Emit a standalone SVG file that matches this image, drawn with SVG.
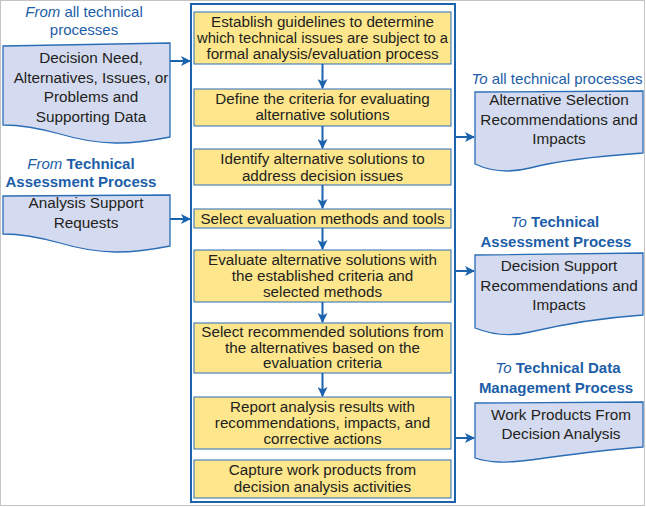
<svg xmlns="http://www.w3.org/2000/svg" width="646" height="507" viewBox="0 0 646 507">
<defs>
<marker id="ah" markerWidth="10" markerHeight="10" refX="9" refY="5" orient="auto" markerUnits="userSpaceOnUse">
<path d="M0,0 L10,5 L0,10 L2.5,5 z" fill="#1b63ad"/>
</marker>
<style>
.frame{fill:none;stroke:#1b63ad;stroke-width:2}
.step{fill:#fde68c;stroke:#2a6db5;stroke-width:1}
.doc{fill:#d4daef;stroke:#2a6db5;stroke-width:1.3}
.t{font-family:"Liberation Sans",Arial,sans-serif;font-size:15.2px;fill:#231f20;text-anchor:middle}
.d{font-family:"Liberation Sans",Arial,sans-serif;font-size:15.3px;fill:#231f20;text-anchor:middle}
.lb{font-family:"Liberation Sans",Arial,sans-serif;font-size:15px;fill:#1c5ea8;text-anchor:middle}
.b{font-weight:bold}
.i{font-style:italic}
.c line{stroke:#1b63ad;stroke-width:2;marker-end:url(#ah)}
</style>
</defs>
<rect x="0.5" y="0.5" width="644" height="505" fill="#ffffff" stroke="#c4c4c4" stroke-width="1"/>
<rect class="frame" x="191" y="4" width="264" height="498"/>

<g id="s1"><rect class="step" x="194" y="12" width="257" height="52"/>
<text class="t" x="322.5" y="26.5">Establish guidelines to determine</text>
<text class="t" x="322.5" y="43" textLength="251" lengthAdjust="spacingAndGlyphs">which technical issues are subject to a</text>
<text class="t" x="322.5" y="59">formal analysis/evaluation process</text></g>
<g id="s2"><rect class="step" x="194" y="89" width="257" height="37"/>
<text class="t" x="322.5" y="103.5">Define the criteria for evaluating</text>
<text class="t" x="322.5" y="120">alternative solutions</text></g>
<g id="s3"><rect class="step" x="194" y="149" width="257" height="36"/>
<text class="t" x="322.5" y="164">Identify alternative solutions to</text>
<text class="t" x="322.5" y="180.5">address decision issues</text></g>
<g id="s4"><rect class="step" x="194" y="209" width="257" height="19"/>
<text class="t" x="322.5" y="223.5">Select evaluation methods and tools</text></g>
<g id="s5"><rect class="step" x="194" y="250" width="257" height="52"/>
<text class="t" x="322.5" y="265">Evaluate alternative solutions with</text>
<text class="t" x="322.5" y="281">the established criteria and</text>
<text class="t" x="322.5" y="297">selected methods</text></g>
<g id="s6"><rect class="step" x="194" y="323" width="257" height="50"/>
<text class="t" x="322.5" y="336.5">Select recommended solutions from</text>
<text class="t" x="322.5" y="352.5">the alternatives based on the</text>
<text class="t" x="322.5" y="368">evaluation criteria</text></g>
<g id="s7"><rect class="step" x="194" y="397" width="257" height="52"/>
<text class="t" x="322.5" y="412">Report analysis results with</text>
<text class="t" x="322.5" y="428">recommendations, impacts, and</text>
<text class="t" x="322.5" y="444">corrective actions</text></g>
<g id="s8"><rect class="step" x="194" y="460" width="257" height="38"/>
<text class="t" x="322.5" y="475">Capture work products from</text>
<text class="t" x="322.5" y="492">decision analysis activities</text></g>

<g id="in1">
<text class="lb" x="84" y="17"><tspan class="i">From</tspan> all technical</text>
<text class="lb" x="84" y="35">processes</text>
<path class="doc" d="M3,46 L170,43 L170,137 C130,145 100,146 60,134 C35,127 15,125 3,125 Z"/>
<text class="d" x="91" y="63">Decision Need,</text>
<text class="d" x="91" y="83">Alternatives, Issues, or</text>
<text class="d" x="91" y="102">Problems and</text>
<text class="d" x="91" y="122">Supporting Data</text>
</g>
<g id="in2">
<text class="lb" x="81" y="169"><tspan class="i">From</tspan> <tspan class="b">Technical</tspan></text>
<text class="lb b" x="81" y="187">Assessment Process</text>
<path class="doc" d="M3,196 L170,195 L170,246 C130,254 100,255 60,243 C35,236 15,234 3,234 Z"/>
<text class="d" x="86" y="208">Analysis Support</text>
<text class="d" x="86" y="228">Requests</text>
</g>

<g id="out1">
<text class="lb" x="557" y="84"><tspan class="i">To</tspan> all technical processes</text>
<path class="doc" d="M475,92 L643,91 L643,153 C600,156 560,160 530,168 C510,173 490,171 475,164 Z"/>
<text class="d" x="559" y="105">Alternative Selection</text>
<text class="d" x="559" y="125">Recommendations and</text>
<text class="d" x="559" y="144">Impacts</text>
</g>
<g id="out2">
<text class="lb" x="555" y="227"><tspan class="i">To</tspan> <tspan class="b">Technical</tspan></text>
<text class="lb b" x="556" y="247">Assessment Process</text>
<path class="doc" d="M475,255 L643,253 L643,315 C600,318 560,325 530,332 C510,337 490,334 475,328 Z"/>
<text class="d" x="559" y="271">Decision Support</text>
<text class="d" x="559" y="291">Recommendations and</text>
<text class="d" x="559" y="310">Impacts</text>
</g>
<g id="out3">
<text class="lb" x="558" y="373"><tspan class="i">To</tspan> <tspan class="b">Technical Data</tspan></text>
<text class="lb b" x="556" y="393">Management Process</text>
<path class="doc" d="M475,403 L643,402 L643,447 C600,450 560,456 530,460 C505,463 490,463 475,458 Z"/>
<text class="d" x="561" y="420">Work Products From</text>
<text class="d" x="561" y="439">Decision Analysis</text>
</g>

<g id="connectors" class="c">
<line x1="322.5" y1="64" x2="322.5" y2="88"/>
<line x1="322.5" y1="126" x2="322.5" y2="148"/>
<line x1="322.5" y1="185" x2="322.5" y2="208"/>
<line x1="322.5" y1="228" x2="322.5" y2="249"/>
<line x1="322.5" y1="302" x2="322.5" y2="322"/>
<line x1="322.5" y1="373" x2="322.5" y2="396"/>
<line x1="170" y1="61" x2="190" y2="61"/>
<line x1="170" y1="219" x2="190" y2="219"/>
<line x1="455" y1="137" x2="474" y2="137"/>
<line x1="455" y1="271" x2="474" y2="271"/>
<line x1="455" y1="438" x2="474" y2="438"/>
</g>
</svg>
